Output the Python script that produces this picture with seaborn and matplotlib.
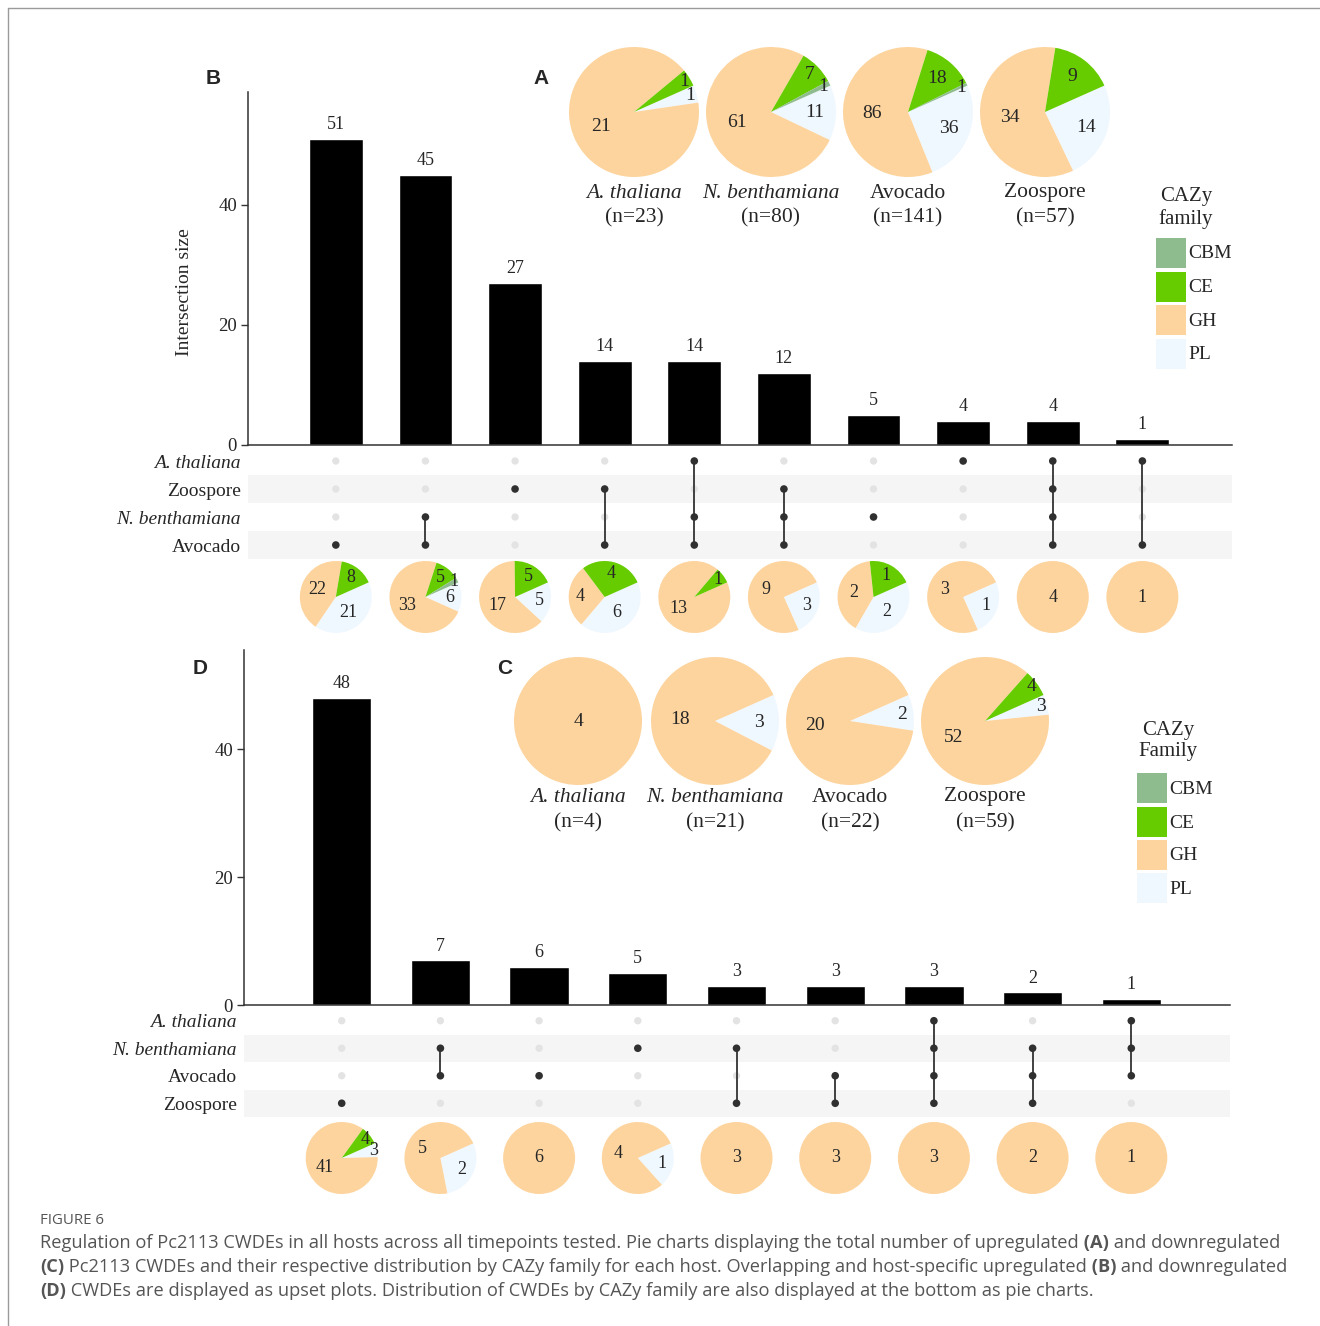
import numpy as np
import pandas as pd
import seaborn as sns
import matplotlib.pyplot as plt
from matplotlib.patches import Rectangle
from matplotlib.lines import Line2D

# ---- data -------------------------------------------------------------
families = ["CBM", "CE", "GH", "PL"]
fam_colors = {"CBM": "#8fbc8f", "CE": "#66cc00", "GH": "#fdd49e", "PL": "#f0f8ff"}

# panel A: upregulated per host (CBM, CE, GH, PL)
hosts_a = ["A. thaliana", "N. benthamiana", "Avocado", "Zoospore"]
pies_a = [[0, 1, 21, 1], [1, 7, 61, 11], [1, 18, 86, 36], [0, 9, 34, 14]]

# panel B: upregulated upset
hosts_b = ["A. thaliana", "Zoospore", "N. benthamiana", "Avocado"]
sizes_b = [51, 45, 27, 14, 14, 12, 5, 4, 4, 1]
sets_b = [
    ["Avocado"],
    ["N. benthamiana", "Avocado"],
    ["Zoospore"],
    ["Zoospore", "Avocado"],
    ["A. thaliana", "N. benthamiana", "Avocado"],
    ["Zoospore", "N. benthamiana", "Avocado"],
    ["N. benthamiana"],
    ["A. thaliana"],
    ["A. thaliana", "Zoospore", "N. benthamiana", "Avocado"],
    ["A. thaliana", "Avocado"],
]
pies_b = [[0, 8, 22, 21], [1, 5, 33, 6], [0, 5, 17, 5], [0, 4, 4, 6], [0, 1, 13, 0],
          [0, 0, 9, 3], [0, 1, 2, 2], [0, 0, 3, 1], [0, 0, 4, 0], [0, 0, 1, 0]]

# panel C: downregulated per host
hosts_c = ["A. thaliana", "N. benthamiana", "Avocado", "Zoospore"]
pies_c = [[0, 0, 4, 0], [0, 0, 18, 3], [0, 0, 20, 2], [0, 4, 52, 3]]

# panel D: downregulated upset
hosts_d = ["A. thaliana", "N. benthamiana", "Avocado", "Zoospore"]
sizes_d = [48, 7, 6, 5, 3, 3, 3, 2, 1]
sets_d = [
    ["Zoospore"],
    ["N. benthamiana", "Avocado"],
    ["Avocado"],
    ["N. benthamiana"],
    ["N. benthamiana", "Zoospore"],
    ["Avocado", "Zoospore"],
    ["A. thaliana", "N. benthamiana", "Avocado", "Zoospore"],
    ["N. benthamiana", "Avocado", "Zoospore"],
    ["A. thaliana", "N. benthamiana", "Avocado"],
]
pies_d = [[0, 4, 41, 3], [0, 0, 5, 2], [0, 0, 6, 0], [0, 0, 4, 1], [0, 0, 3, 0],
          [0, 0, 3, 0], [0, 0, 3, 0], [0, 0, 2, 0], [0, 0, 1, 0]]

caption_lines = [
    [("Regulation of Pc2113 CWDEs in all hosts across all timepoints tested. Pie charts displaying the total number of upregulated", False),
     (" (A)", True), (" and downregulated", False)],
    [("(C)", True), (" Pc2113 CWDEs and their respective distribution by CAZy family for each host. Overlapping and host-specific upregulated", False),
     (" (B)", True), (" and downregulated", False)],
    [("(D)", True), (" CWDEs are displayed as upset plots. Distribution of CWDEs by CAZy family are also displayed at the bottom as pie charts.", False)],
]

# ---- style ------------------------------------------------------------
sns.set_style("white")
plt.rcParams["font.family"] = ["Liberation Serif", "DejaVu Serif"]

W, H = 1320, 1326
fig = plt.figure(figsize=(W / 100, H / 100), dpi=100)


def rect(x0, y0, x1, y1):
    return [x0 / W, 1 - y1 / H, (x1 - x0) / W, (y1 - y0) / H]


def ftext(x, y, s, **kw):
    return fig.text(x / W, 1 - y / H, s, **kw)


def is_species(name):
    return "." in name


def draw_pie(cx, cy, r, comp, fs=12):
    ax = fig.add_axes(rect(cx - r, cy - r, cx + r, cy + r))
    # clockwise from 24 deg: PL, GH, CE, CBM
    order = ["PL", "GH", "CE", "CBM"]
    vals = [comp[families.index(f)] for f in order]
    total = sum(vals)
    wedges, _ = ax.pie(vals, colors=[fam_colors[f] for f in order], startangle=24,
                       counterclock=False, wedgeprops=dict(linewidth=0))
    for w, v in zip(wedges, vals):
        if v == 0:
            continue
        if v == total:
            x, y = 0, 0
        else:
            frac = v / total
            rr = 0.55 if frac > 0.3 else (0.68 if frac > 0.1 else (0.82 if frac > 0.07 else 0.9))
            mid = np.deg2rad((w.theta1 + w.theta2) / 2)
            x, y = rr * np.cos(mid), rr * np.sin(mid)
        ax.text(x, y, str(v), ha="center", va="center", fontsize=fs)
    ax.set_xlim(-1, 1)
    ax.set_ylim(-1, 1)
    ax.axis("off")


def draw_upset(sizes, sets, hosts, pies, bar_box, mat_box, xlim, ymax, pie_cy, pie_r, ylabel=None):
    n = len(sizes)
    ax = fig.add_axes(rect(*bar_box))
    sns.barplot(x=list(range(n)), y=sizes, color="black", width=0.6, saturation=1, ax=ax)
    ax.set_xlim(*xlim)
    ax.set_ylim(0, ymax)
    ax.set_xticks([])
    ax.set_yticks([0, 20, 40])
    ax.tick_params(axis="y", labelsize=13.5, length=5, width=1, color="#333333", pad=3, left=True)
    sns.despine(ax=ax)
    for sp in ["left", "bottom"]:
        ax.spines[sp].set_color("#333333")
        ax.spines[sp].set_linewidth(1.1)
    ax.bar_label(ax.containers[0], padding=4, fontsize=13)
    if ylabel:
        ax.set_ylabel(ylabel, fontsize=14)
        h_px = bar_box[3] - bar_box[1]
        ax.yaxis.set_label_coords(-55 / (bar_box[2] - bar_box[0]), (bar_box[3] - 292) / h_px)

    # matrix
    axm = fig.add_axes(rect(*mat_box))
    rows = []
    for i, s in enumerate(sets):
        for j, h in enumerate(hosts):
            rows.append({"x": i, "y": j, "active": h in s})
    df = pd.DataFrame(rows)
    for j in range(len(hosts)):
        if j % 2 == 1:
            axm.axhspan(j - 0.5, j + 0.5, color="#f5f5f5", zorder=0, lw=0)
    sns.scatterplot(data=df[~df["active"]], x="x", y="y", color="#e3e3e3", s=28,
                    edgecolor="none", ax=axm, legend=False, zorder=2)
    for i, s in enumerate(sets):
        idx = [hosts.index(h) for h in s]
        if len(idx) > 1:
            axm.plot([i, i], [min(idx), max(idx)], color="#333333", lw=1.3, zorder=3)
    sns.scatterplot(data=df[df["active"]], x="x", y="y", color="#303030", s=30,
                    edgecolor="none", ax=axm, legend=False, zorder=4)
    axm.set_xlim(*xlim)
    axm.set_ylim(len(hosts) - 0.5, -0.5)
    axm.set_xticks([])
    axm.set_yticks(range(len(hosts)))
    axm.set_yticklabels(hosts, fontsize=14)
    for lbl in axm.get_yticklabels():
        if is_species(lbl.get_text()):
            lbl.set_style("italic")
    axm.tick_params(axis="y", length=0, pad=5)
    axm.set_xlabel("")
    axm.set_ylabel("")
    for sp in axm.spines.values():
        sp.set_visible(False)

    # pies under bars
    for i, comp in enumerate(pies):
        cx = ax.transData.transform((i, 0))[0]
        draw_pie(cx, pie_cy, pie_r, comp, fs=13)
    return ax


def draw_host_pies(hosts, pies, centers_x, cy, r, name_y, n_y):
    for h, comp, cx in zip(hosts, pies, centers_x):
        draw_pie(cx, cy, r, comp, fs=14)
        ftext(cx, name_y, h, ha="center", va="center", fontsize=15.5,
              style="italic" if is_species(h) else "normal")
        ftext(cx, n_y, f"(n={sum(comp)})", ha="center", va="center", fontsize=15.5)


def draw_legend(title, x_box, y_boxes, cx_title, y_title):
    ftext(cx_title, y_title, title, ha="center", va="center", fontsize=15, linespacing=1.2)
    for f, yb in zip(families, y_boxes):
        fig.add_artist(Rectangle((x_box / W, 1 - (yb + 30) / H), 30 / W, 30 / H,
                                 transform=fig.transFigure, color=fam_colors[f], lw=0))
        ftext(x_box + 32, yb + 16, f, ha="left", va="center", fontsize=14)


# panel B upset
draw_upset(sizes_b, sets_b, hosts_b, pies_b,
           bar_box=(248, 92, 1232, 445), mat_box=(248, 447, 1232, 559),
           xlim=(-0.98, 10.0), ymax=58.8, pie_cy=597, pie_r=36, ylabel="Intersection size")

# panel D upset
draw_upset(sizes_d, sets_d, hosts_d, pies_d,
           bar_box=(244, 650, 1230, 1005), mat_box=(244, 1007, 1230, 1117),
           xlim=(-0.99, 9.0), ymax=55.5, pie_cy=1158, pie_r=36)

# panels A and C host pies
draw_host_pies(hosts_a, pies_a, [634, 771, 908, 1045], 112, 65, 193, 218)
draw_host_pies(hosts_c, pies_c, [578, 715, 850, 985], 721, 64, 797, 823)

draw_legend("CAZy\nfamily", 1156, [238, 272, 305, 339], 1186, 208)
draw_legend("CAZy\nFamily", 1137, [773, 807, 840, 873], 1168, 741)

# panel letters
for letter, x, y in [("B", 213, 79), ("A", 541, 79), ("D", 200, 668), ("C", 505, 668)]:
    ftext(x, y, letter, ha="center", va="center", fontsize=15, fontweight="bold",
          family="Liberation Sans")

# frame lines of the figure box
fig.add_artist(Line2D([8 / W, 8 / W], [0, 1 - 8 / H], transform=fig.transFigure, color="#9a9a9a", lw=1))
fig.add_artist(Line2D([8 / W, 1], [1 - 8 / H, 1 - 8 / H], transform=fig.transFigure, color="#9a9a9a", lw=1))

# caption
ftext(40, 1220, "FIGURE 6", ha="left", va="center", fontsize=10.8, color="#555555", family="Open Sans")
renderer = fig.canvas.get_renderer()
for line, y in zip(caption_lines, [1243, 1267, 1291]):
    x = 40
    for txt, bold in line:
        t = ftext(x, y, txt, ha="left", va="center", fontsize=13.15, color="#555555",
                  family="Open Sans", fontweight="bold" if bold else "normal")
        x += t.get_window_extent(renderer=renderer).width

fig.savefig("out.png", dpi=100)
